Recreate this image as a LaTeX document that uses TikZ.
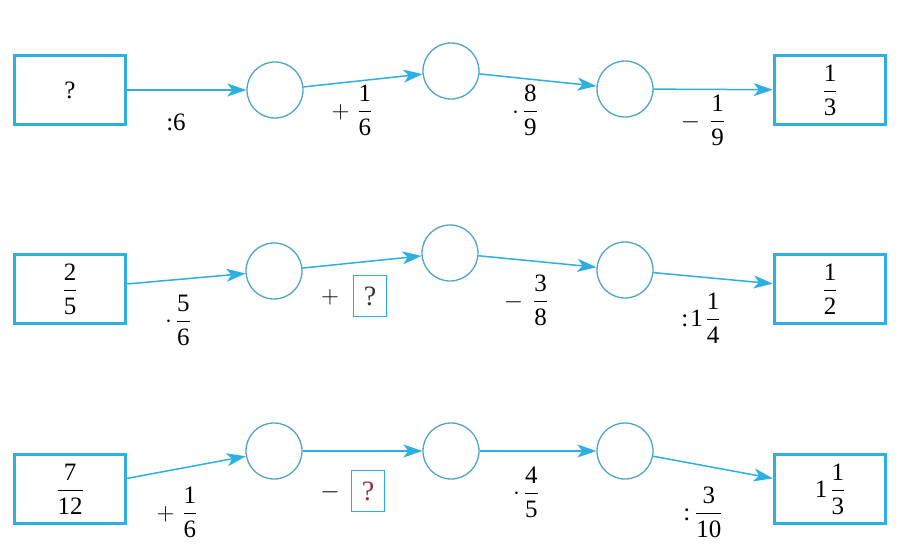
\documentclass[tikz,border=0pt]{standalone}
\usepackage{amsmath}
\usepackage{fontspec}
\setmainfont{Liberation Serif}
\usetikzlibrary{arrows.meta}
\definecolor{arr}{RGB}{45,175,225}
\definecolor{circ}{RGB}{80,165,195}
\definecolor{qred}{RGB}{150,45,55}
\definecolor{qdark}{RGB}{60,50,55}
\newcommand\fs{\fontsize{25}{30}\selectfont}
\newcommand\qs{\fontsize{28}{32}\selectfont}
\newcommand\fr[2]{\ensuremath{\dfrac{\text{#1}}{\text{#2}}}}
\begin{document}
\begin{tikzpicture}[x=1pt,y=-1pt,
  valbox/.style={draw=arr,line width=3.5pt,minimum width=111pt,minimum height=69pt,inner sep=0pt,font=\fs},
  ring/.style={draw=circ,line width=1.3pt,circle,minimum size=56pt,inner sep=0pt},
  link/.style={draw=arr,line width=1.5pt,-{Stealth[length=19pt,width=13pt,inset=5pt]}},
  op/.style={font=\fs,inner sep=0pt},
  qbox/.style={draw=arr,line width=1.3pt,minimum width=33pt,minimum height=41pt,inner sep=0pt,font=\qs}
]
\useasboundingbox[fill=white] (0,0) rectangle (912,554);

% Row 1
\node[valbox] (a0) at (70,90) {?};
\node[ring] (a1) at (275,90) {};
\node[ring] (a2) at (451,71) {};
\node[ring] (a3) at (625,89) {};
\node[valbox] (a4) at (830,90) {\fr{1}{3}};
\draw[link] (a0) -- (a1);
\draw[link] (a1) -- (a2);
\draw[link] (a2) -- (a3);
\draw[link] (a3) -- (a4);
\node[op] (la1) at (176,122) {:6};
\node[op] (la2) at (352,110) {$+$\hspace{8pt}\fr{1}{6}};
\node[op] (la3) at (525,110) {$\cdot$\hspace{4pt}\fr{8}{9}};
\node[op] (la4) at (703,120) {$-$\hspace{10pt}\fr{1}{9}};

% Row 2
\node[valbox] (b0) at (70,289) {\fr{2}{5}};
\node[ring] (b1) at (274,271) {};
\node[ring] (b2) at (450,253) {};
\node[ring] (b3) at (625,270) {};
\node[valbox] (b4) at (830,289) {\fr{1}{2}};
\draw[link] (b0) -- (b1);
\draw[link] (b1) -- (b2);
\draw[link] (b2) -- (b3);
\draw[link] (b3) -- (b4);
\node[op] (lb1) at (178,320) {$\cdot$\hspace{4pt}\fr{5}{6}};
\node[op] (lb2) at (330,297) {$+$};
\node[qbox,text=qdark] (qb) at (370,296) {?};
\node[op] (lb3) at (526,300) {$-$\hspace{10pt}\fr{3}{8}};
\node[op] (lb4) at (701,318) {:\hspace{2pt}1\hspace{3pt}\fr{1}{4}};

% Row 3
\node[valbox] (c0) at (70,489) {\fr{7}{12}};
\node[ring] (c1) at (274,451) {};
\node[ring] (c2) at (451,451) {};
\node[ring] (c3) at (625,451) {};
\node[valbox] (c4) at (830,489) {1\hspace{3pt}\fr{1}{3}};
\draw[link] (c0) -- (c1);
\draw[link] (c1) -- (c2);
\draw[link] (c2) -- (c3);
\draw[link] (c3) -- (c4);
\node[op] (lc1) at (177,512) {$+$\hspace{8pt}\fr{1}{6}};
\node[op] (lc2) at (330,492) {$-$};
\node[qbox,text=qred] (qc) at (368,491) {?};
\node[op] (lc3) at (526,492) {$\cdot$\hspace{4pt}\fr{4}{5}};
\node[op] (lc4) at (703,512) {:\hspace{5pt}\fr{3}{10}};
\end{tikzpicture}
\end{document}
